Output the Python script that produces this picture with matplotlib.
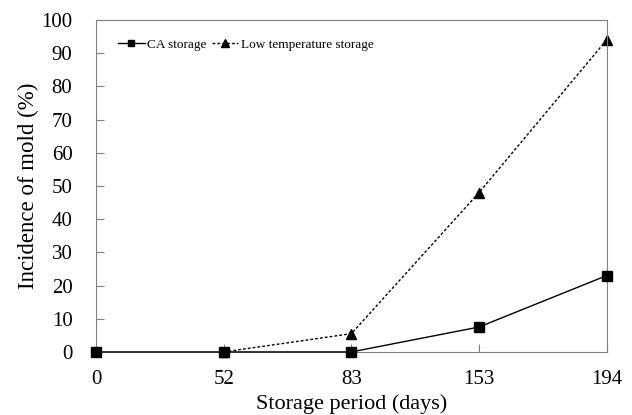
import matplotlib
matplotlib.use("Agg")
import matplotlib.pyplot as plt

# Incidence of mold (%) at each storage period
days = ["0", "52", "83", "153", "194"]
ca_storage = [0, 0, 0, 7.5, 23]
low_temp = [0, 0, 5.5, 48, 94]

plt.rcParams["font.family"] = ["Liberation Serif", "DejaVu Serif"]

fig = plt.figure(figsize=(6.32, 4.15), dpi=100)
ax = fig.add_axes([0.152, 0.152, 0.808, 0.8])

x = list(range(len(days)))
ax.plot(x, ca_storage, color="black", linewidth=1.0, marker="s",
        markersize=6.5, label="CA storage", zorder=3, clip_on=False)
ax.plot(x[1:], low_temp[1:], color="black", linewidth=1.0, linestyle=(0, (2, 1.5)),
        marker="^", markersize=7, label="Low temperature storage", zorder=2,
        clip_on=False)

ax.set_xlim(0, 4)
ax.set_ylim(0, 100)
ax.set_xticks(x)
ax.set_xticklabels(days)
ax.set_yticks(range(0, 101, 10))
ax.tick_params(axis="both", direction="in", length=6, color="#808080",
               labelsize=15)
ax.tick_params(axis="y", pad=17)
ax.tick_params(axis="x", pad=13)
for s in ax.spines.values():
    s.set_color("#808080")

ax.set_xlabel("Storage period (days)", fontsize=16, labelpad=4)
ax.set_ylabel("Incidence of mold (%)", fontsize=16.5, labelpad=2)

ax.legend(loc="upper left", bbox_to_anchor=(0.02, 0.98), frameon=False,
          fontsize=9.5, ncol=2, handlelength=2.0, handletextpad=0.2,
          columnspacing=0.4, markerscale=0.75)

fig.savefig("out.png", dpi=100)
